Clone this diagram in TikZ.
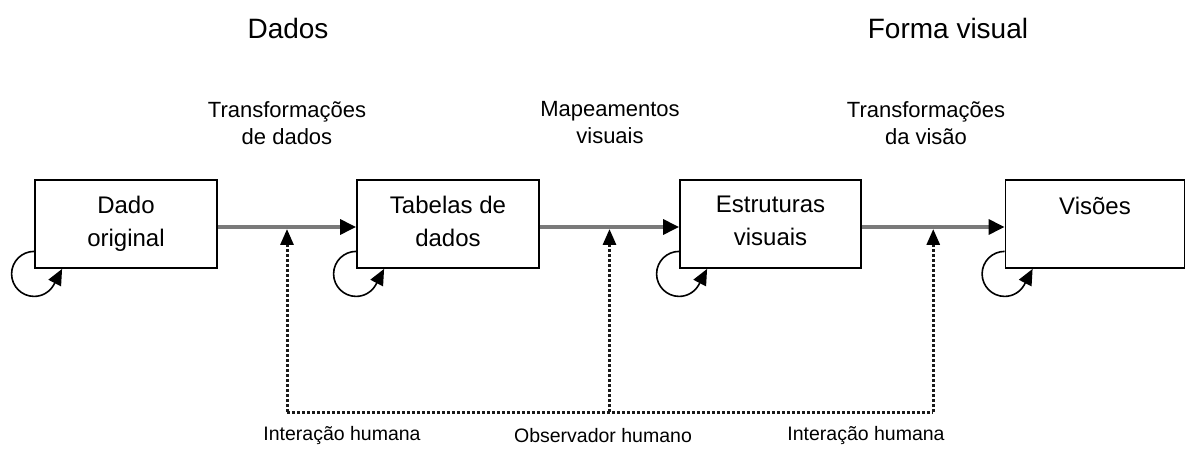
\documentclass[tikz,border=0pt]{standalone}
\usepackage{fontspec}
\setmainfont{Liberation Sans}
\usetikzlibrary{arrows.meta,calc}
\tikzset{
  boxnode/.style={draw=black,line width=1.8pt,minimum width=182pt,minimum height=88pt,inner sep=0pt,fill=white},
  boxtext/.style={anchor=north,align=center,inner sep=0pt,font=\fontsize{24}{33}\selectfont},
  flowarrow/.style={draw=black!52,line width=3.2pt,-{Triangle[length=16pt,width=15pt,black]}},
  looparrow/.style={draw=black,line width=1.6pt,-{Triangle[length=16pt,width=14pt,black]}},
  dotline/.style={draw=black!90,line width=3pt,dash pattern=on 2.6pt off 2.4pt},
  dotarrow/.style={dotline,-{Triangle[length=16pt,width=13pt,black]}},
  midlabel/.style={align=center,inner sep=0pt,font=\fontsize{22}{27}\selectfont},
  toplabel/.style={inner sep=0pt,font=\fontsize{28}{32}\selectfont},
  botlabel/.style={inner sep=0pt,font=\fontsize{19.5}{24}\selectfont}
}
\begin{document}
\begin{tikzpicture}[x=1pt,y=1pt]
\useasboundingbox (0,0) rectangle (1186,450);
% boxes
\node[boxnode] (b1) at (126,226) {};
\node[boxnode] (b2) at (448,226) {};
\node[boxnode,minimum width=181pt] (b3) at (770.5,226) {};
\node[boxnode,minimum width=179pt] (b4) at (1095,226) {};
% box texts
\node[boxtext] (t1) at ([yshift=-17]b1.north) {Dado\\original};
\node[boxtext] (t2) at ([yshift=-17]b2.north) {Tabelas de\\dados};
\node[boxtext] (t3) at ([yshift=-17]b3.north) {Estruturas\\visuais};
\node[boxtext] (t4) at ([yshift=-18]b4.north) {Visões};
% main flow
\draw[flowarrow] ([yshift=-3]b1.east) -- ([yshift=-3]b2.west);
\draw[flowarrow] ([yshift=-3]b2.east) -- ([yshift=-3]b3.west);
\draw[flowarrow] ([yshift=-3]b3.east) -- ([yshift=-3]b4.west);
% self loops
\foreach \b in {b1,b2,b3,b4}{
  \draw[looparrow] ([yshift=17.5]\b.south west) arc[start angle=90,end angle=330,radius=22.5]
     -- ([xshift=28]\b.south west);
}
% interaction points on the flow
\coordinate (m1) at ($([yshift=-5]b1.east)!0.5!([yshift=-5]b2.west)$);
\coordinate (m2) at ($([yshift=-5]b2.east)!0.5!([yshift=-5]b3.west)$);
\coordinate (m3) at ($([yshift=-5]b3.east)!0.5!([yshift=-5]b4.west)$);
\coordinate (h1) at (m1 |- 0,38);
\coordinate (h2) at (m2 |- 0,38);
\coordinate (h3) at (m3 |- 0,38);
\draw[dotline] (h1) -- (h3);
\draw[dotarrow] (h1) -- (m1);
\draw[dotarrow] (h2) -- (m2);
\draw[dotarrow] (h3) -- (m3);
% labels
\node[toplabel] (dados) at (288,422) {Dados};
\node[toplabel] (forma) at (948,422) {Forma visual};
\node[midlabel] (l1) at (287,327) {Transformações\\de dados};
\node[midlabel] (l2) at (610,327) {Mapeamentos\\visuais};
\node[midlabel] (l3) at (926,327) {Transformações\\da visão};
\node[botlabel] (i1) at (342,14) {Interação humana};
\node[botlabel] (o1) at (603,14) {Observador humano};
\node[botlabel] (i2) at (866,14) {Interação humana};
\end{tikzpicture}
\end{document}
